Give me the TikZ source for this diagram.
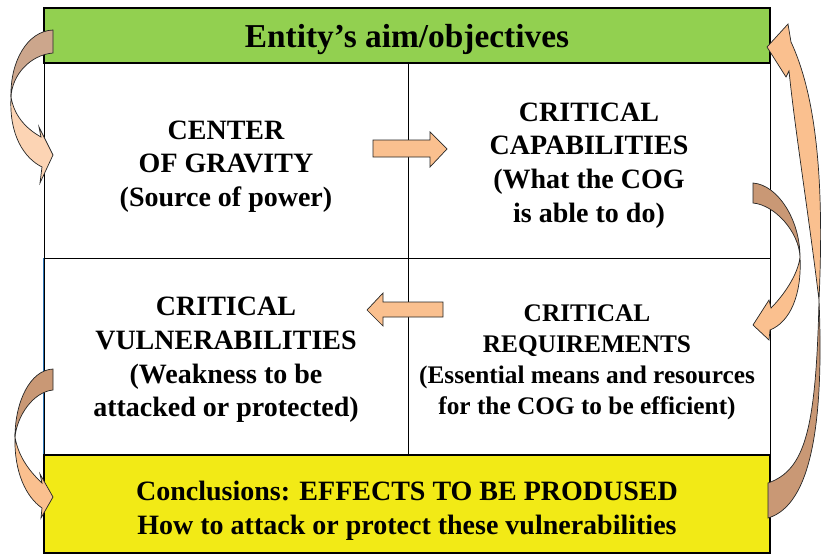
\documentclass[tikz,border=0pt]{standalone}
\usepackage{fontspec}
\setmainfont{Liberation Serif}
\usepackage{xcolor}
\usepackage{tikz}
\usetikzlibrary{positioning}

\definecolor{aimgreen}{RGB}{146,208,80}
\definecolor{effyellow}{RGB}{242,234,22}
\definecolor{arrpeach}{RGB}{250,192,143}
\definecolor{arrbrown}{RGB}{201,152,117}
\definecolor{palepeach}{RGB}{252,212,180}
\definecolor{palebrown}{RGB}{204,166,140}
\definecolor{edgeblue}{RGB}{46,117,182}

\begin{document}
\begin{tikzpicture}[x=0.03cm, y=-0.03cm,
    box/.style={draw=black, line width=0.8pt, fill=white, inner sep=0pt},
    hdr/.style={box, line width=1.2pt},
    txt/.style={align=center, inner sep=0pt, font=\fontsize{23.9}{28.8}\selectfont\bfseries},
    blk/.style={draw=black!85, line width=0.6pt, fill=arrpeach, line join=miter},
    fold/.style={blk, fill=arrbrown},
]
\def\u{0.03}
\useasboundingbox (0,0) rectangle (822,557);

% the four factors
\node[box, minimum width=364*\u cm, minimum height=195*\u cm] (cog) at (226,160.5) {};
\node[box, minimum width=362*\u cm, minimum height=195*\u cm] (capab) at (589,160.5) {};
\node[box, minimum width=364*\u cm, minimum height=197*\u cm] (vuln) at (226,356.5) {};
\node[box, minimum width=362*\u cm, minimum height=197*\u cm] (req) at (589,356.5) {};
\draw[edgeblue, line width=0.8pt] (vuln.south west) -- (vuln.north west);

\node[txt, yshift=-6*\u cm] (cogtxt) at (cog) {CENTER\\OF GRAVITY\\(Source of power)};
\node[txt, yshift=-5*\u cm] (capabtxt) at (capab) {CRITICAL\\CAPABILITIES\\(What the COG\\is able to do)};
\node[txt, yshift=-3.5*\u cm] (vulntxt) at (vuln) {CRITICAL\\VULNERABILITIES\\(Weakness to be\\attacked or protected)};
\node[txt, font=\fontsize{21.6}{26.5}\selectfont\bfseries, xshift=-2*\u cm, yshift=-5.5*\u cm] (reqtxt) at (req)
    {CRITICAL\\REQUIREMENTS\\(Essential means and resources\\for the COG to be efficient)};

% aim and conclusions
\node[hdr, fill=aimgreen, minimum width=726*\u cm, minimum height=55*\u cm] (aim) at (407,35.5) {};
\node[txt, font=\fontsize{28.5}{34}\selectfont\bfseries, yshift=-4*\u cm] (aimtxt) at (aim) {Entity’s aim/objectives};
\node[hdr, fill=effyellow, minimum width=726*\u cm, minimum height=98*\u cm] (concl) at (407,504) {};
\node[txt, yshift=-7*\u cm] (concltxt) at (concl)
    {Conclusions: EFFECTS TO BE PRODUSED\\How to attack or protect these vulnerabilities};

% straight block arrows
\draw[blk] (373,140) -- (430,140) -- (430,132) -- (447,149) -- (430,167) -- (430,157) -- (373,157) -- cycle;
\draw[blk] (443,302) -- (383,302) -- (383,293) -- (367,310) -- (383,326) -- (383,317) -- (443,317) -- cycle;

% aim -> centre of gravity
\draw[fold, fill=palebrown] (53,30) .. controls (27,31) and (10,62) .. (11,97) .. controls (12,75) and (30,55) .. (53,53) -- cycle;
\draw[blk, fill=palepeach] (11,97) .. controls (14,115) and (25,128) .. (41,137) -- (39,127) -- (53,155) -- (40,183) -- (42,167)
    .. controls (24,158) and (9,135) .. (11,97) -- cycle;

% capabilities -> requirements
\draw[fold] (753,183) .. controls (778,185) and (800,220) .. (800,257) .. controls (799,232) and (775,205) .. (753,203) -- cycle;
\draw[blk] (800,257) .. controls (798,275) and (783,296) .. (771,308) -- (769,300) -- (753,325) -- (769,340) -- (770,330)
    .. controls (790,322) and (802,295) .. (800,257) -- cycle;

% vulnerabilities -> conclusions
\draw[fold] (53,369) .. controls (30,370) and (15,402) .. (15,437) .. controls (17,416) and (33,392) .. (53,390) -- cycle;
\draw[blk] (15,437) .. controls (18,455) and (28,470) .. (42,483) -- (40,474) -- (53,497) -- (41,518) -- (42,508)
    .. controls (26,497) and (14,472) .. (15,437) -- cycle;

% conclusions -> aim
\draw[fold] (768,518) .. controls (812,505) and (824,420) .. (819,300) .. controls (816,430) and (805,470) .. (768,483) -- cycle;
\draw[blk] (819,300) .. controls (824,190) and (818,100) .. (791,42) -- (788,24) -- (767,47) -- (786,77) -- (789,71)
    .. controls (795,130) and (808,210) .. (819,300) -- cycle;
\end{tikzpicture}
\end{document}
